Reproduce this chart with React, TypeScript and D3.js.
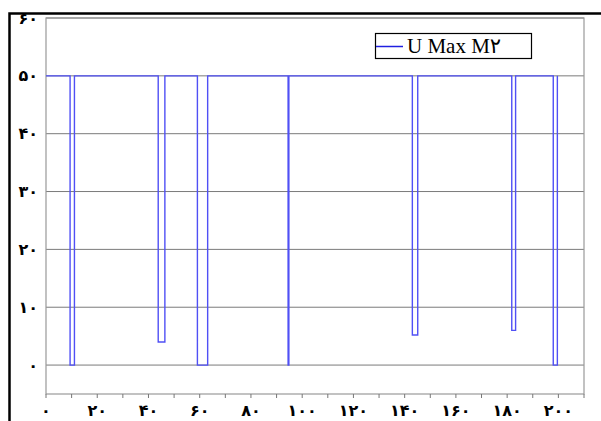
import React from "react";
import * as d3 from "d3";

const xValues = [0, 9.4, 9.4, 11.1, 11.1, 43.8, 43.8, 46.4, 46.4, 59.1, 59.1, 63.1, 63.1, 94.5, 94.5, 94.8, 94.8, 143.0, 143.0, 145.1, 145.1, 181.8, 181.8, 183.3, 183.3, 198.0, 198.0, 199.6, 199.6];
const yValues = [50, 50, 0, 0, 50, 50, 4, 4, 50, 50, 0, 0, 50, 50, 0, 0, 50, 50, 5.2, 5.2, 50, 50, 6, 6, 50, 50, 0, 0, 50];
const yTicks = [0, 10, 20, 30, 40, 50, 60];
const xTicks = [0, 20, 40, 60, 80, 100, 120, 140, 160, 180, 200];
const xMinorTicks = d3.range(0, 211, 10);
const seriesName = "U Max M۲";

const toPersian = (n: number) => String(n).replace(/\d/g, (d) => "۰۱۲۳۴۵۶۷۸۹"[+d]);

export default function App() {
  const W = 601, H = 421;
  const L = 46, R = 584, T = 18, B = 394;
  const x = d3.scaleLinear().domain([0, 210]).range([L, R]);
  const y = d3.scaleLinear().domain([-5, 60]).range([B, T]);
  const pts: [number, number][] = xValues.map((v, i) => [v, yValues[i]]);
  const line = d3.line<[number, number]>().x((d) => x(d[0])).y((d) => y(d[1]));
  const labelFont = "'Liberation Serif', 'DejaVu Sans', serif";
  return (
    <svg width={W} height={H} style={{ position: "absolute", left: 0, top: 0, background: "#fff" }}>
      <rect x={0} y={0} width={W} height={H} fill="#fff" />
      <rect x={9.5} y={13.5} width={620} height={440} fill="none" stroke="#000" strokeWidth={2.5} />
      {yTicks.map((t) => (
        <line key={"g" + t} x1={L} x2={R} y1={y(t)} y2={y(t)} stroke="#7a7a7a" strokeWidth={1} />
      ))}
      <rect x={L} y={T} width={R - L} height={B - T} fill="none" stroke="#999" strokeWidth={1.2} />
      {xMinorTicks.map((t) => (
        <line key={"t" + t} x1={x(t)} x2={x(t)} y1={B} y2={B + 4} stroke="#777" strokeWidth={1} />
      ))}
      {yTicks.map((t) => (
        <text key={"yl" + t} x={38} y={y(t)} textAnchor="end" dominantBaseline="central"
          fontFamily={labelFont} fontWeight="bold" fontSize={16} fill="#000">{toPersian(t)}</text>
      ))}
      {xTicks.map((t) => (
        <text key={"xl" + t} x={x(t)} y={410} textAnchor="middle" dominantBaseline="central"
          fontFamily={labelFont} fontWeight="bold" fontSize={16} fill="#000">{toPersian(t)}</text>
      ))}
      <path d={line(pts) || ""} fill="none" stroke="#5050f5" strokeWidth={1.4} />
      <rect x={375.5} y={33.5} width={156} height={25} fill="#fff" stroke="#000" strokeWidth={1.2} />
      <line x1={376} x2={403} y1={46.5} y2={46.5} stroke="#2020e0" strokeWidth={1.5} />
      <text x={407} y={46} dominantBaseline="central" fontFamily={labelFont} fontSize={21} fill="#000">{seriesName}</text>
    </svg>
  );
}
